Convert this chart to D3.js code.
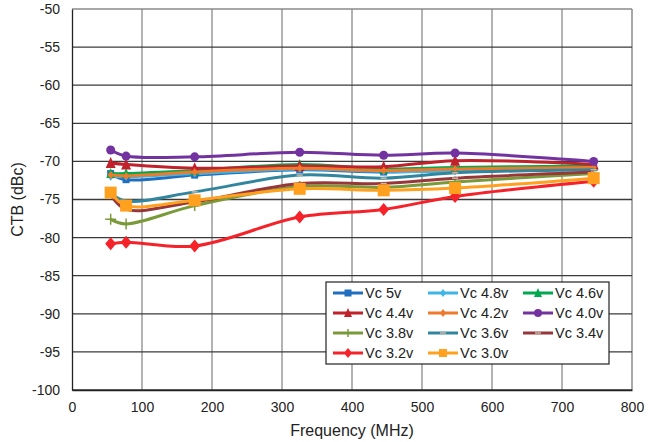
<!DOCTYPE html>
<html>
<head>
<meta charset="utf-8">
<script src="https://cdn.jsdelivr.net/npm/d3@7"></script>
<style>
  body { margin: 0; background: #fff; }
  text { font-family: "Liberation Sans", Arial, sans-serif; fill: #222; }
</style>
</head>
<body>
<svg id="chart" width="660" height="442"></svg>
<script>
// frequencies (MHz)
const freqs = [55.25, 77.25, 175.25, 325.25, 445.25, 547.25, 745.25]

const seriesNames = ["Vc 5v", "Vc 4.8v", "Vc 4.6v", "Vc 4.4v", "Vc 4.2v", "Vc 4.0v",
    "Vc 3.8v", "Vc 3.6v", "Vc 3.4v", "Vc 3.2v", "Vc 3.0v"]

// CTB (dBc) per supply voltage
const vc50 = [-71.6, -72.4, -71.8, -71.1, -71.4, -71.2, -70.8]
const vc48 = [-72.0, -72.0, -71.6, -71.0, -71.3, -71.3, -70.9]
const vc46 = [-71.6, -71.6, -71.2, -70.4, -71.0, -70.8, -70.6]
const vc44 = [-70.2, -70.4, -70.9, -70.6, -70.7, -69.9, -70.4]
const vc42 = [-71.8, -71.9, -71.4, -70.9, -71.2, -71.0, -70.8]
const vc40 = [-68.5, -69.3, -69.4, -68.8, -69.2, -68.9, -70.0]
const vc38 = [-77.6, -78.2, -75.8, -73.3, -73.4, -72.7, -71.6]
const vc36 = [-74.2, -75.2, -74.0, -71.8, -72.2, -71.5, -71.1]
const vc34 = [-74.4, -76.3, -75.3, -72.9, -72.9, -72.2, -71.4]
const vc32 = [-80.8, -80.6, -81.1, -77.3, -76.3, -74.6, -72.6]
const vc30 = [-74.1, -75.8, -75.1, -73.6, -73.8, -73.5, -72.2]

const xTicks = [0, 100, 200, 300, 400, 500, 600, 700, 800]
const yTicks = [-100, -95, -90, -85, -80, -75, -70, -65, -60, -55, -50]

const allValues = [vc50, vc48, vc46, vc44, vc42, vc40, vc38, vc36, vc34, vc32, vc30]

const styles = [
    { color: "#1f6ebf", marker: "square", size: 7 },
    { color: "#3fb4e6", marker: "diamond", size: 6 },
    { color: "#00a84f", marker: "triangle", size: 9 },
    { color: "#c0212b", marker: "triangle", size: 10 },
    { color: "#ee7a2c", marker: "diamond", size: 6 },
    { color: "#7232a0", marker: "circle", size: 9 },
    { color: "#7a9a3a", marker: "plus", size: 11 },
    { color: "#31869e", marker: "dash", size: 6 },
    { color: "#98373a", marker: "dash", size: 6 },
    { color: "#f5222a", marker: "diamond", size: 11 },
    { color: "#ffa11f", marker: "square", size: 12 }
]

const margin = { top: 9, left: 72, right: 28, bottom: 52 },
    width = 660 - margin.left - margin.right,
    height = 442 - margin.top - margin.bottom

const svg = d3.select("#chart")
const g = svg.append("g").attr("transform", `translate(${margin.left},${margin.top})`)

const x = d3.scaleLinear().domain([0, 800]).range([0, width])
const y = d3.scaleLinear().domain([-100, -50]).range([height, 0])

// vertical grid
g.selectAll(".vgrid")
    .data(xTicks.slice(1))
    .enter()
    .append("line")
    .attr("x1", d => x(d)).attr("x2", d => x(d))
    .attr("y1", 0).attr("y2", height)
    .attr("stroke", d => d === 800 ? "#a8a8a8" : "#9a9a9a")
    .attr("stroke-width", d => d === 800 ? 2 : 1.5)

// horizontal grid
g.selectAll(".hgrid")
    .data(yTicks)
    .enter()
    .append("line")
    .attr("x1", 0).attr("x2", width)
    .attr("y1", d => y(d)).attr("y2", d => y(d))
    .attr("stroke", d => d === -50 ? "#8a8a8a" : "#3a3a3a")
    .attr("stroke-width", 1.3)

// axes
const yAxis = g.append("g").call(d3.axisLeft(y).tickValues(yTicks).tickFormat(d => String(d)).tickSize(0).tickPadding(12))
yAxis.select(".domain").attr("stroke", "#222").attr("stroke-width", 1.3)
yAxis.selectAll("text").attr("font-size", 14).attr("fill", "#222")

const xAxis = g.append("g")
    .attr("transform", `translate(0,${height})`)
    .call(d3.axisBottom(x).tickValues(xTicks).tickFormat(d => String(d)).tickSize(0).tickPadding(12))
xAxis.select(".domain").attr("stroke", "#222").attr("stroke-width", 1.3)
xAxis.selectAll("text").attr("font-size", 14).attr("fill", "#222")

svg.append("text")
    .attr("x", margin.left + width / 2)
    .attr("y", 436)
    .attr("text-anchor", "middle")
    .attr("font-size", 16)
    .text("Frequency (MHz)")

svg.append("text")
    .attr("transform", `translate(23,${margin.top + height / 2}) rotate(-90)`)
    .attr("text-anchor", "middle")
    .attr("font-size", 16)
    .text("CTB (dBc)")

const line = d3.line()
    .x(d => x(d[0]))
    .y(d => y(d[1]))
    .curve(d3.curveCatmullRom.alpha(0.5))

function drawMarker(sel, st, cx, cy) {
    const s = st.size
    if (st.marker === "square") {
        sel.append("rect").attr("x", cx - s / 2).attr("y", cy - s / 2)
            .attr("width", s).attr("height", s).attr("fill", st.color)
    } else if (st.marker === "diamond") {
        sel.append("path")
            .attr("d", `M${cx},${cy - s / 2 - 1}L${cx + s / 2},${cy}L${cx},${cy + s / 2 + 1}L${cx - s / 2},${cy}Z`)
            .attr("fill", st.color)
    } else if (st.marker === "triangle") {
        sel.append("path")
            .attr("d", `M${cx},${cy - s / 2 - 1}L${cx + s / 2},${cy + s / 2}L${cx - s / 2},${cy + s / 2}Z`)
            .attr("fill", st.color)
    } else if (st.marker === "circle") {
        sel.append("circle").attr("cx", cx).attr("cy", cy).attr("r", s / 2).attr("fill", st.color)
    } else if (st.marker === "plus") {
        sel.append("path")
            .attr("d", `M${cx - s / 2},${cy}H${cx + s / 2}M${cx},${cy - s / 2}V${cy + s / 2}`)
            .attr("stroke", st.color).attr("stroke-width", 1.5)
    } else if (st.marker === "dash") {
        sel.append("path")
            .attr("d", `M${cx - s / 2},${cy}H${cx + s / 2}`)
            .attr("stroke", "#c9b9a9").attr("stroke-width", 1.5)
    }
}

allValues.forEach((vals, i) => {
    const st = styles[i]
    const pts = freqs.map((f, j) => [f, vals[j]])
    const sg = g.append("g")
    sg.append("path")
        .attr("d", line(pts))
        .attr("fill", "none")
        .attr("stroke", st.color)
        .attr("stroke-width", 3)
    pts.forEach(p => drawMarker(sg, st, x(p[0]), y(p[1])))
})

// legend
const legend = svg.append("g").attr("transform", "translate(326,282)")
legend.append("rect")
    .attr("width", 283).attr("height", 82)
    .attr("fill", "#fff").attr("stroke", "#222").attr("stroke-width", 1.2)

const colX = [7, 102, 197]
seriesNames.forEach((name, i) => {
    const col = i % 3, row = Math.floor(i / 3)
    const lx = colX[col], ly = 11 + row * 20
    const st = styles[i]
    const item = legend.append("g")
    item.append("line")
        .attr("x1", lx).attr("x2", lx + 30)
        .attr("y1", ly).attr("y2", ly)
        .attr("stroke", st.color).attr("stroke-width", 3)
    drawMarker(item, Object.assign({}, st, { size: Math.min(st.size, 8) }), lx + 15, ly)
    item.append("text")
        .attr("x", lx + 32).attr("y", ly + 5)
        .attr("font-size", 14.5)
        .text(name)
})
</script>
</body>
</html>
